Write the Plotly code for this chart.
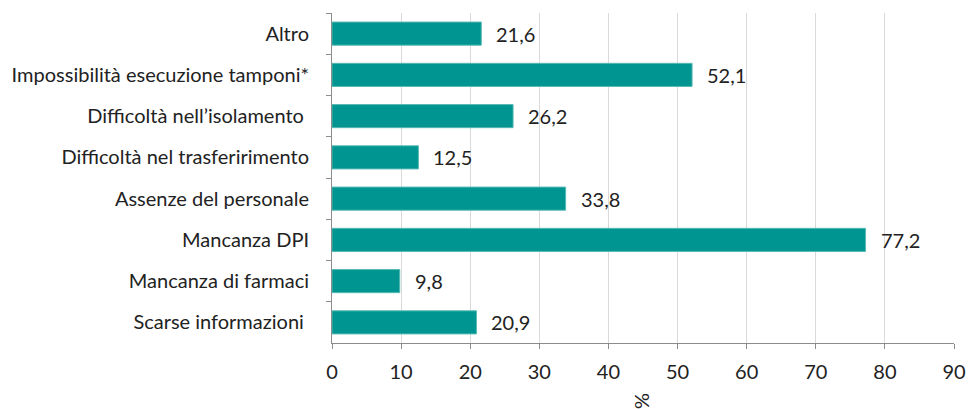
import plotly.graph_objects as go

# Problems reported, top to bottom as drawn
categories = [
    "Altro",
    "Impossibilità esecuzione tamponi*",
    "Difficoltà nell’isolamento ",
    "Difficoltà nel trasferirimento",
    "Assenze del personale",
    "Mancanza DPI",
    "Mancanza di farmaci",
    "Scarse informazioni ",
]
values = [21.6, 52.1, 26.2, 12.5, 33.8, 77.2, 9.8, 20.9]
value_labels = ["21,6", "52,1", "26,2", "12,5", "33,8", "77,2", "9,8", "20,9"]
x_ticks = [0, 10, 20, 30, 40, 50, 60, 70, 80, 90]

FONT = "Lato, 'Open Sans', sans-serif"
SIZE = 20
TEXT = "#222222"
AXIS = "#8c8c8c"

fig = go.Figure(
    go.Bar(
        x=values,
        y=categories,
        orientation="h",
        width=0.56,
        marker=dict(color="#009590", line=dict(color="#56b9b4", width=1)),
        hoverinfo="skip",
    )
)

# value labels to the right of each bar
for v, c, t in zip(values, categories, value_labels):
    fig.add_annotation(
        x=v, y=c, text=t, showarrow=False,
        xanchor="left", yanchor="middle", xshift=13,
        font=dict(family=FONT, size=SIZE, color=TEXT),
    )

# axis title, rotated
fig.add_annotation(
    x=45, y=0, xref="x", yref="paper", yshift=-68,
    text="%", showarrow=False, textangle=90,
    font=dict(family=FONT, size=SIZE, color=TEXT),
)

fig.update_layout(
    width=968, height=409,
    margin=dict(l=332, r=14, t=13, b=66),
    paper_bgcolor="white", plot_bgcolor="white",
    showlegend=False,
    font=dict(family=FONT, size=SIZE, color=TEXT),
    xaxis=dict(
        range=[0, 90], tickvals=x_ticks, ticktext=[str(t) for t in x_ticks],
        showgrid=True, gridcolor="#d9d9d9", gridwidth=1,
        showline=True, linecolor=AXIS, linewidth=1,
        ticks="outside", ticklen=5, tickcolor=AXIS,
        ticklabelstandoff=6, automargin=False,
        tickfont=dict(family=FONT, size=SIZE, color=TEXT),
        zeroline=False, fixedrange=True,
    ),
    yaxis=dict(
        categoryorder="array", categoryarray=categories,
        autorange="reversed",
        showline=True, linecolor=AXIS, linewidth=1,
        ticks="outside", ticklen=5, tickcolor=AXIS,
        tickson="boundaries", ticklabelstandoff=18, automargin=False,
        tickfont=dict(family=FONT, size=SIZE, color=TEXT),
        showgrid=False, fixedrange=True,
    ),
)

fig.write_html("out.html")
